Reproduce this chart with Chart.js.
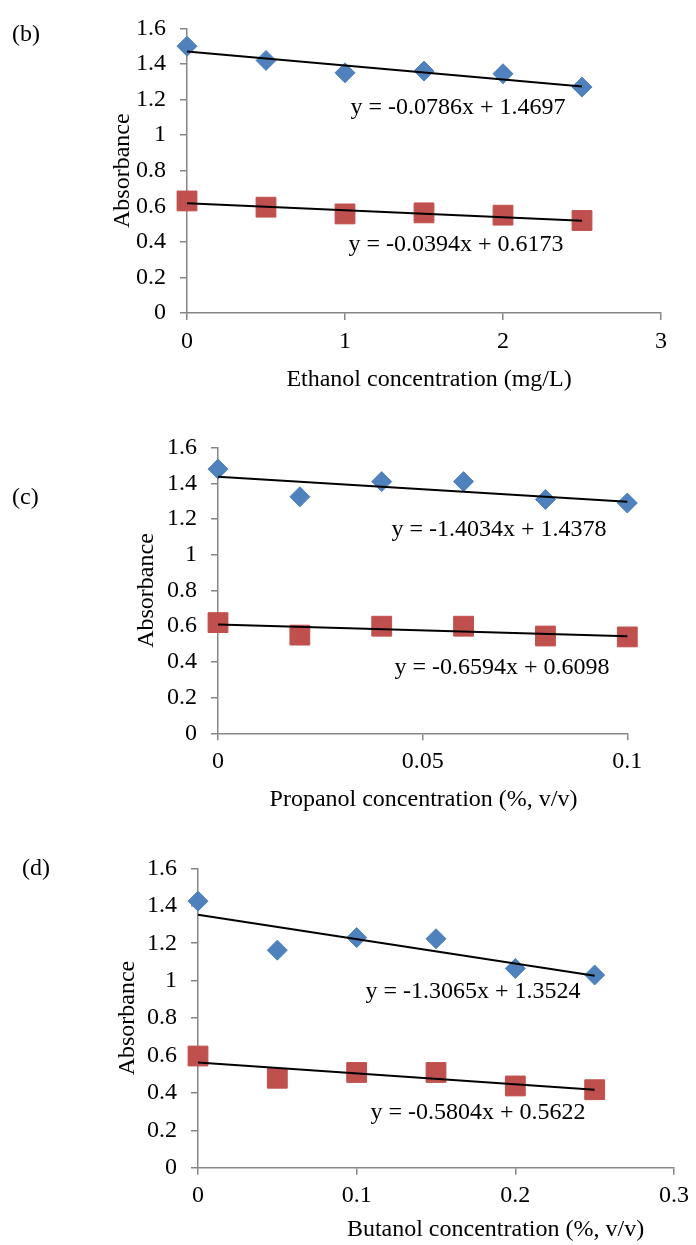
<!DOCTYPE html>
<html>
<head>
<meta charset="utf-8">
<script src="https://cdn.jsdelivr.net/npm/chart.js@4.4.0/dist/chart.umd.min.js"></script>
<style>
  html, body { margin: 0; padding: 0; background: #fff; }
  #wrap { position: relative; width: 696px; height: 1245px; }
  canvas { position: absolute; left: 0; }
</style>
</head>
<body>
<div id="wrap">
  <canvas id="chartB" width="696" height="415" style="top:0;width:696px;height:415px"></canvas>
  <canvas id="chartC" width="696" height="425" style="top:415px;width:696px;height:425px"></canvas>
  <canvas id="chartD" width="696" height="405" style="top:840px;width:696px;height:405px"></canvas>
</div>
<script>
// values
const ethanolConc = [0, 0.5, 1, 1.5, 2, 2.5];
const ethanolBlue = [1.50, 1.42, 1.35, 1.36, 1.345, 1.27];
const ethanolRed = [0.63, 0.595, 0.557, 0.563, 0.55, 0.52];
const ethanolFitBlue = [-0.0786, 1.4697];
const ethanolFitRed = [-0.0394, 0.6173];

const propanolConc = [0, 0.02, 0.04, 0.06, 0.08, 0.1];
const propanolBlue = [1.48, 1.325, 1.41, 1.41, 1.31, 1.29];
const propanolRed = [0.62, 0.55, 0.60, 0.60, 0.545, 0.54];
const propanolFitBlue = [-1.4034, 1.4378];
const propanolFitRed = [-0.6594, 0.6098];

const butanolConc = [0, 0.05, 0.1, 0.15, 0.2, 0.25];
const butanolBlue = [1.425, 1.163, 1.23, 1.224, 1.065, 1.03];
const butanolRed = [0.597, 0.478, 0.509, 0.509, 0.437, 0.417];
const butanolFitBlue = [-1.3065, 1.3524];
const butanolFitRed = [-0.5804, 0.5622];

// axis ranges [min, max, step]
const yRange = [0, 1.6, 0.2];
const ethanolXRange = [0, 3, 1];
const propanolXRange = [0, 0.1, 0.05];
const butanolXRange = [0, 0.3, 0.1];

const FONT = "'Liberation Serif', 'Times New Roman', serif";
const AXIS = '#868686';
const BLUE = '#4F81BD';
const RED = '#C0504D';

Chart.defaults.font.family = FONT;
Chart.defaults.font.size = 24;
Chart.defaults.color = '#000';

const panels = [
  {
    id: 'chartB', h: 415, area: [187, 23, 661, 313],
    conc: ethanolConc, blue: ethanolBlue, red: ethanolRed,
    fitBlue: ethanolFitBlue, fitRed: ethanolFitRed, xRange: ethanolXRange,
    tag: '(b)', tagPos: [12, 35], yTitleX: 122.5,
    xTitle: 'Ethanol concentration (mg/L)', xTitlePos: [429, 380],
    eqBluePos: [458, 108], eqRedPos: [456, 245]
  },
  {
    id: 'chartC', h: 425, area: [218, 32.7, 627.3, 318.3],
    conc: propanolConc, blue: propanolBlue, red: propanolRed,
    fitBlue: propanolFitBlue, fitRed: propanolFitRed, xRange: propanolXRange,
    tag: '(c)', tagPos: [12, 83], yTitleX: 147,
    xTitle: 'Propanol concentration (%, v/v)', xTitlePos: [423.5, 385],
    eqBluePos: [499, 115], eqRedPos: [502, 253]
  },
  {
    id: 'chartD', h: 405, area: [198, 16.7, 678.7, 327.7],
    conc: butanolConc, blue: butanolBlue, red: butanolRed,
    fitBlue: butanolFitBlue, fitRed: butanolFitRed, xRange: butanolXRange,
    tag: '(d)', tagPos: [22, 29], yTitleX: 127.5,
    xTitle: 'Butanol concentration (%, v/v)', xTitlePos: [495.5, 390],
    eqBluePos: [473, 152], eqRedPos: [478, 273]
  }
];

const fmt = v => String(parseFloat(Number(v).toFixed(4)));
const eqText = fit => `y = ${fit[0]}x + ${fit[1]}`;
const points = (xs, ys) => xs.map((x, i) => ({x: x, y: ys[i]}));
const fitLine = (xs, fit) => {
  const x0 = xs[0], x1 = xs[xs.length - 1];
  return [{x: x0, y: fit[0] * x0 + fit[1]}, {x: x1, y: fit[0] * x1 + fit[1]}];
};

function textPlugin(p) {
  return {
    id: 'panelText',
    afterDraw(chart) {
      const ctx = chart.ctx;
      ctx.save();
      ctx.fillStyle = '#000';
      ctx.font = '24px ' + FONT;
      ctx.textBaseline = 'middle';
      ctx.textAlign = 'left';
      ctx.fillText(p.tag, p.tagPos[0], p.tagPos[1]);
      ctx.textAlign = 'center';
      ctx.fillText(p.xTitle, p.xTitlePos[0], p.xTitlePos[1]);
      ctx.fillText(eqText(p.fitBlue), p.eqBluePos[0], p.eqBluePos[1]);
      ctx.fillText(eqText(p.fitRed), p.eqRedPos[0], p.eqRedPos[1]);
      ctx.restore();
    }
  };
}

panels.forEach(p => {
  const [left, top, right, bottom] = p.area;
  new Chart(document.getElementById(p.id), {
    type: 'scatter',
    data: {
      datasets: [
        { data: fitLine(p.conc, p.fitBlue), showLine: true, pointRadius: 0,
          borderColor: '#000', borderWidth: 2, order: 0, clip: false },
        { data: fitLine(p.conc, p.fitRed), showLine: true, pointRadius: 0,
          borderColor: '#000', borderWidth: 2, order: 0, clip: false },
        { data: points(p.conc, p.blue), pointStyle: 'rectRot', pointRadius: 10,
          backgroundColor: BLUE, borderColor: BLUE, borderWidth: 1, order: 1, clip: false },
        { data: points(p.conc, p.red), pointStyle: 'rect', pointRadius: 14,
          backgroundColor: RED, borderColor: RED, borderWidth: 1, order: 1, clip: false }
      ]
    },
    options: {
      responsive: false,
      animation: false,
      layout: { padding: { left: 0, top: top, right: 696 - right, bottom: 0 } },
      plugins: { legend: { display: false }, tooltip: { enabled: false } },
      scales: {
        x: {
          type: 'linear',
          min: p.xRange[0], max: p.xRange[1],
          ticks: { stepSize: p.xRange[2], padding: 7, callback: fmt, maxRotation: 0 },
          grid: { drawOnChartArea: false, drawTicks: true, tickLength: 7, color: AXIS, lineWidth: 1.5 },
          border: { display: true, color: AXIS, width: 1.5 },
          afterFit: s => { s.height = p.h - bottom; }
        },
        y: {
          type: 'linear',
          min: yRange[0], max: yRange[1],
          ticks: { stepSize: yRange[2], padding: 14, callback: fmt },
          grid: { drawOnChartArea: false, drawTicks: true, tickLength: 7, color: AXIS, lineWidth: 1.5 },
          border: { display: true, color: AXIS, width: 1.5 },
          title: { display: true, text: 'Absorbance', padding: { top: p.yTitleX - 14.4, bottom: 0 } },
          afterFit: s => { s.width = left; }
        }
      }
    },
    plugins: [textPlugin(p)]
  });
});
</script>
</body>
</html>
